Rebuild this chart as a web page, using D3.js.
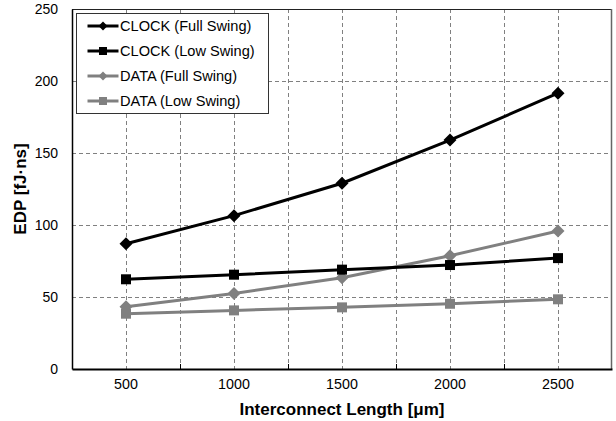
<!DOCTYPE html>
<html>
<head>
<meta charset="utf-8">
<script src="https://cdn.jsdelivr.net/npm/d3@7"></script>
<style>
  body { margin: 0; background: #fff; }
  svg text { font-family: "Liberation Sans", Arial, sans-serif; }
</style>
</head>
<body>
<div id="chart"></div>
<script>

// interconnect length categories (um)
var lengths = [500, 1000, 1500, 2000, 2500];

// EDP values [fJ·ns]
var clockFull = [87, 106.5, 129, 159, 191.5];
var clockLow  = [62.3, 65.5, 69, 72.2, 77];
var dataFull  = [43.3, 52.5, 63.4, 78.7, 95.8];
var dataLow   = [38.4, 40.7, 42.8, 45.3, 48.4];

var yTicks = [0, 50, 100, 150, 200, 250];

var series = [
    {name: "CLOCK (Full Swing)", values: clockFull, color: "#000", symbol: "diamond"},
    {name: "CLOCK (Low Swing)",  values: clockLow,  color: "#000", symbol: "square"},
    {name: "DATA (Full Swing)",  values: dataFull,  color: "#808080", symbol: "diamond"},
    {name: "DATA (Low Swing)",   values: dataLow,   color: "#808080", symbol: "square"}
];

var W = 616, H = 421;
var margin = {top: 9, right: 4, bottom: 52, left: 72};
var w = W - margin.left - margin.right;
var h = H - margin.top - margin.bottom;

var svg = d3.select("#chart").append("svg")
    .attr("width", W)
    .attr("height", H);

var g = svg.append("g")
    .attr("transform", "translate(" + margin.left + "," + margin.top + ")");

var x = d3.scaleBand().domain(lengths).range([0, w]);
var y = d3.scaleLinear().domain([0, 250]).range([h, 0]);

function cx(d) { return x(d) + x.bandwidth() / 2; }

// marker shapes (square-ish diamond like the original)
function markerPath(kind, r) {
    if (kind == "diamond") {
        return "M0," + (-r) + "L" + r + ",0L0," + r + "L" + (-r) + ",0Z";
    }
    return "M" + (-r) + "," + (-r) + "H" + r + "V" + r + "H" + (-r) + "Z";
}

// gridlines - horizontal
g.append("g")
    .selectAll("line")
    .data(yTicks.slice(1))
    .enter().append("line")
    .attr("x1", 0).attr("x2", w)
    .attr("y1", function(d) { return Math.round(y(d)) + 0.5; })
    .attr("y2", function(d) { return Math.round(y(d)) + 0.5; })
    .attr("stroke", "#808080")
    .attr("stroke-dasharray", "4,3");

// gridlines - vertical, at category centers and boundaries
var vlines = [];
lengths.forEach(function(d, i) {
    vlines.push(cx(d));
    if (i > 0) vlines.push(x(d));
});
g.append("g")
    .selectAll("line")
    .data(vlines)
    .enter().append("line")
    .attr("x1", function(d) { return Math.round(d) + 0.5; })
    .attr("x2", function(d) { return Math.round(d) + 0.5; })
    .attr("y1", 0).attr("y2", h)
    .attr("stroke", "#808080")
    .attr("stroke-dasharray", "4,3");

// plot border (top / right)
g.append("line").attr("x1", 0).attr("x2", w).attr("y1", 0.5).attr("y2", 0.5)
    .attr("stroke", "#222").attr("stroke-width", 1.2);
g.append("line").attr("x1", w - 0.5).attr("x2", w - 0.5).attr("y1", 0).attr("y2", h)
    .attr("stroke", "#666").attr("stroke-width", 1.5);

// y axis
var yAxis = g.append("g")
    .call(d3.axisLeft(y).tickValues(yTicks).tickSize(0).tickPadding(14));
yAxis.select(".domain").attr("stroke", "#000").attr("stroke-width", 1.5);
yAxis.selectAll("text").attr("font-size", 14).attr("fill", "#000");

// x axis
var xAxis = g.append("g")
    .attr("transform", "translate(0," + h + ")")
    .call(d3.axisBottom(x).tickSize(0).tickPadding(10));
xAxis.select(".domain").attr("stroke", "#000").attr("stroke-width", 2);
xAxis.selectAll("text").attr("font-size", 14.3).attr("fill", "#000");

// inward ticks between categories
g.append("g")
    .selectAll("line")
    .data(lengths.slice(1))
    .enter().append("line")
    .attr("x1", function(d) { return Math.round(x(d)) + 0.5; })
    .attr("x2", function(d) { return Math.round(x(d)) + 0.5; })
    .attr("y1", h).attr("y2", h - 5)
    .attr("stroke", "#000");

// lines + markers
var line = d3.line()
    .x(function(d, i) { return cx(lengths[i]); })
    .y(function(d) { return y(d); });

series.slice().reverse().forEach(function(s) {
    var sg = g.append("g");
    sg.append("path")
        .attr("d", line(s.values))
        .attr("fill", "none")
        .attr("stroke", s.color)
        .attr("stroke-width", 3);
    sg.selectAll("path.pt")
        .data(s.values)
        .enter().append("path")
        .attr("class", "pt")
        .attr("transform", function(d, i) { return "translate(" + cx(lengths[i]) + "," + y(d) + ")"; })
        .attr("d", markerPath(s.symbol, s.symbol == "diamond" ? 6.5 : 5))
        .attr("fill", s.color);
});

// legend
var legend = svg.append("g").attr("transform", "translate(76.5,13.5)");
legend.append("rect")
    .attr("width", 192).attr("height", 100)
    .attr("fill", "#fff")
    .attr("stroke", "#333");

var li = legend.selectAll("g.item")
    .data(series)
    .enter().append("g")
    .attr("class", "item")
    .attr("transform", function(d, i) { return "translate(0," + (12.5 + i * 25) + ")"; });

li.append("line")
    .attr("x1", 11).attr("x2", 42)
    .attr("stroke", function(d) { return d.color; })
    .attr("stroke-width", 3);
li.append("path")
    .attr("transform", "translate(26.5,0)")
    .attr("d", function(d) { return markerPath(d.symbol, d.symbol == "diamond" ? 4.5 : 4); })
    .attr("fill", function(d) { return d.color; });
li.append("text")
    .attr("x", 43.5)
    .attr("dy", "0.36em")
    .attr("font-size", 14.6)
    .text(function(d) { return d.name; });

// axis titles
svg.append("text")
    .attr("x", margin.left + w / 2)
    .attr("y", 415)
    .attr("text-anchor", "middle")
    .attr("font-size", 17)
    .attr("font-weight", "bold")
    .text("Interconnect Length [μm]");

svg.append("text")
    .attr("transform", "translate(26,189) rotate(-90)")
    .attr("text-anchor", "middle")
    .attr("font-size", 17)
    .attr("font-weight", "bold")
    .text("EDP [fJ·ns]");

</script>
</body>
</html>
